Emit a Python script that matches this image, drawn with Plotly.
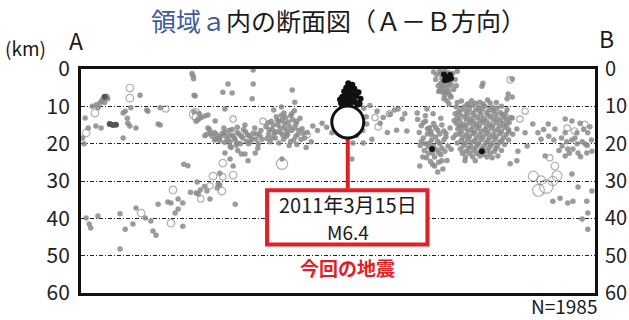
import plotly.graph_objects as go

# Cross-section A-B: distance along profile (0-100) vs depth (km)

# small hypocentres (grey dots), grouped by area
west_shallow = [
    (4.3, 8.0), (3.7, 9.1), (4.9, 7.8), (3.3, 10.4), (0.8, 13.1), (1.4, 15.8),
    (2.9, 15.3), (3.9, 15.8), (8.2, 11.8), (8.6, 11.3), (9.1, 14.5), (9.5, 15.3),
    (10.7, 15.8), (8.2, 18.5), (9.7, 10.4), (13.0, 11.3), (15.4, 10.4), (15.0, 14.7),
    (5.0, 7.3), (4.0, 8.6), (5.2, 8.0), (3.0, 9.6), (4.6, 9.0), (2.2, 10.0),
    (11.5, 7.0), (12.8, 11.0), (15.4, 15.0), (0.3, 18.5), (0.6, 20.0), (9.0, 13.2),
]
west_dark = [(5.6, 14.7), (6.2, 15.0), (6.8, 14.9), (4.6, 7.4)]
west_deep = [
    (20.0, 25.5), (20.8, 25.9), (22.4, 33.2), (15.0, 36.2), (16.9, 35.6), (17.5, 35.9),
    (18.9, 34.8), (19.8, 35.9), (10.7, 37.2), (12.5, 39.9), (7.6, 38.8), (3.3, 39.4),
    (1.0, 39.9), (1.9, 42.6), (1.6, 41.5), (10.1, 41.5), (8.6, 42.9), (13.6, 40.7),
    (14.0, 43.4), (19.8, 42.1), (14.6, 44.5), (7.6, 48.2), (18.3, 38.6), (18.9, 37.5),
    (22.8, 33.5), (24.5, 32.7), (25.1, 34.8), (26.7, 30.8), (27.0, 27.9), (28.0, 22.5),
    (29.0, 24.1), (29.6, 26.0), (30.0, 36.2), (29.0, 20.6), (30.4, 19.8), (31.9, 22.8),
    (32.5, 24.6), (33.9, 22.5), (34.4, 21.2), (39.1, 24.1), (22.6, 30.3), (23.2, 32.4),
    (26.5, 31.9), (27.0, 31.1), (21.3, 33.0), (24.0, 31.5),
]
central_upper = [
    (21.8, 1.9), (22.2, 7.2), (22.8, 13.4), (24.1, 17.9), (28.6, 4.0), (29.4, 6.4),
    (27.6, 6.2), (33.5, 4.0), (33.3, 8.0), (28.0, 10.7), (24.1, 12.6), (26.1, 13.9),
    (21.6, 1.2), (33.5, 0.3), (22.0, 7.0), (22.0, 11.5), (23.0, 12.0), (22.4, 14.0),
    (23.4, 13.0), (24.7, 12.3), (24.7, 15.8), (21.9, 2.6),
]
band_west = [
    (24.5, 17.5), (25.5, 18.0), (26.0, 17.0), (26.8, 18.5), (27.5, 17.2), (28.2, 18.0),
    (28.8, 16.5), (29.5, 17.8), (30.0, 19.0), (30.8, 17.5), (31.5, 18.5), (32.0, 16.8),
    (32.8, 18.0), (33.5, 17.2), (34.0, 18.8), (34.8, 17.8), (27.0, 19.2), (29.0, 19.5),
    (31.0, 20.0), (33.0, 19.5), (25.0, 16.2), (27.8, 15.8), (30.4, 15.6), (31.9, 15.0),
    (33.8, 15.8), (35.0, 16.5), (29.2, 21.0), (30.5, 21.8), (31.2, 22.8), (26.2, 18.8),
    (28.5, 18.9), (32.2, 19.4), (34.5, 20.0), (35.2, 18.8),
    (25.2, 17.2), (26.4, 17.6), (27.2, 18.0), (28.0, 17.0), (29.0, 17.8), (29.8, 18.4),
    (30.4, 17.0), (31.2, 18.0), (32.4, 17.6), (33.2, 18.6), (34.2, 17.4), (26.0, 19.0),
    (28.0, 19.6), (30.2, 20.4), (32.6, 20.0), (31.6, 16.2), (29.4, 16.2),
]
band_centre = [
    (36.0, 15.5), (36.5, 17.5), (37.0, 14.0), (37.2, 16.2), (37.8, 18.5), (38.0, 12.8),
    (38.3, 15.0), (38.8, 17.0), (39.2, 13.5), (39.5, 11.8), (39.6, 15.8), (40.0, 18.0),
    (40.3, 14.2), (40.8, 12.5), (41.0, 16.5), (41.4, 19.0), (41.8, 14.8), (42.2, 17.5),
    (42.6, 13.2), (43.0, 16.0), (36.8, 19.5), (38.5, 19.8), (40.5, 20.5), (42.0, 20.2),
    (43.5, 18.5), (44.0, 17.0), (37.5, 11.0), (39.0, 10.2), (41.5, 11.2), (38.6, 14.0),
    (40.0, 16.6), (41.2, 13.6), (39.4, 18.8), (37.6, 17.2), (36.2, 18.6), (42.8, 18.9),
    (45.1, 15.3), (46.9, 14.5), (48.8, 17.1), (46.0, 16.5), (47.8, 15.6), (44.8, 19.5),
    (43.8, 21.0), (41.1, 5.6), (41.6, 8.9),
    (36.6, 16.3), (37.4, 15.0), (38.0, 16.8), (38.8, 15.8), (39.0, 12.4), (39.8, 13.0),
    (40.6, 15.4), (40.2, 17.4), (41.6, 15.8), (42.4, 16.4), (41.8, 18.0), (39.2, 17.6),
    (37.2, 18.4), (40.8, 19.4), (38.2, 13.8), (42.0, 14.0), (36.4, 14.4), (43.2, 17.2),
    (39.6, 14.6), (41.0, 12.0),
]
near_mainshock = [
    (55.6, 14.7), (56.6, 18.8), (57.6, 11.3), (58.2, 14.5), (60.1, 12.1), (61.7, 10.7),
    (62.5, 13.4), (63.4, 16.6), (65.4, 11.8), (67.3, 10.7), (52.7, 24.1), (52.9, 19.8),
    (54.9, 19.8), (55.0, 10.5), (54.8, 16.5), (55.5, 12.8), (61.0, 11.0), (59.6, 17.0),
    (61.4, 16.4), (58.8, 13.0), (63.0, 12.0), (56.2, 9.8), (53.6, 17.8),
]
north_top = [
    (68.6, 0.8), (69.2, 1.5), (69.8, 0.5), (70.2, 2.5), (70.0, 3.8), (69.5, 4.5),
    (70.6, 5.2), (71.0, 4.0), (71.8, 3.5), (72.3, 1.2), (72.8, 2.8), (73.2, 0.6),
    (71.5, 6.0), (70.8, 7.0), (72.0, 7.5), (71.2, 8.5), (72.5, 5.5), (69.0, 2.8),
    (73.0, 4.5), (70.4, 6.3), (71.6, 9.4), (69.6, 6.0),
    (70.0, 1.2), (70.8, 0.6), (71.5, 1.0), (70.4, 3.2), (71.4, 4.8), (72.0, 4.2),
    (70.2, 4.6), (69.8, 5.6), (71.0, 6.2), (71.8, 7.0), (70.6, 8.0),
]
mid_cluster = [
    (65.5, 13.5), (66.2, 15.2), (67.0, 14.0), (67.8, 15.8), (68.6, 14.6), (69.4, 16.4),
    (70.2, 15.0), (71.0, 17.2), (65.8, 17.0), (66.6, 18.5), (67.4, 17.4), (68.2, 19.0),
    (69.0, 18.2), (69.8, 20.0), (70.6, 19.0), (71.4, 20.6), (66.0, 20.5), (66.8, 21.8),
    (67.6, 20.8), (68.4, 22.5), (69.2, 21.6), (70.0, 23.0), (70.8, 22.0), (67.2, 23.8),
    (68.0, 24.8), (68.8, 26.0), (69.6, 25.0), (70.4, 26.8), (71.2, 24.5), (72.0, 21.5),
    (72.4, 18.4), (71.8, 15.8), (72.6, 13.8), (67.0, 12.5), (68.5, 12.0), (65.9, 26.0),
    (66.5, 23.6), (69.4, 27.6), (68.0, 16.8), (70.0, 13.2),
    (66.6, 14.4), (67.4, 16.0), (68.2, 17.6), (69.0, 15.6), (69.8, 17.4), (70.6, 16.6),
    (66.2, 19.4), (67.0, 20.0), (67.8, 19.8), (68.6, 20.6), (69.4, 19.4), (70.2, 21.2),
    (67.6, 22.6), (68.8, 23.6), (69.6, 22.4), (70.2, 24.6), (68.4, 25.6), (71.0, 18.2),
]
east_cluster = [
    (76.0, 8.5), (77.6, 8.9), (79.1, 8.3),
    (74.5, 10.2), (76.1, 9.8), (77.3, 10.4), (78.5, 9.9), (80.1, 10.3),
    (73.4, 11.6), (74.9, 11.3), (76.2, 11.8), (77.6, 11.4), (78.9, 11.7), (80.2, 11.2), (81.6, 11.7),
    (73.2, 13.1), (74.6, 12.8), (75.8, 13.3), (77.1, 12.9), (78.3, 13.2), (79.7, 12.8), (81.0, 13.3), (82.4, 12.9),
    (73.0, 14.5), (74.3, 14.8), (75.7, 14.4), (76.9, 14.7), (78.2, 14.3), (79.5, 14.8), (80.8, 14.4), (82.1, 14.6), (83.3, 14.3),
    (73.3, 16.1), (74.7, 15.8), (75.9, 16.2), (77.2, 15.9), (78.6, 16.2), (79.8, 15.8), (81.1, 16.1), (82.4, 15.7),
    (73.6, 17.4), (74.9, 17.7), (76.3, 17.3), (77.5, 17.6), (78.8, 17.4), (80.1, 17.7), (81.5, 17.3), (82.7, 17.6), (84.0, 17.5),
    (74.0, 19.1), (75.3, 18.8), (76.6, 19.2), (77.9, 18.9), (79.2, 19.1), (80.5, 18.8), (81.8, 19.2),
    (74.4, 20.4), (75.8, 20.7), (77.1, 20.3), (78.4, 20.6), (79.7, 20.4), (81.0, 20.7),
    (75.0, 22.0), (76.4, 21.8), (77.6, 22.2), (79.0, 21.9), (80.4, 22.1),
    (76.2, 23.5), (77.6, 23.3), (79.0, 23.6),
    (75.1, 9.6), (82.9, 10.9), (73.9, 15.5), (83.2, 16.3),
    (75.3, 9.3), (76.8, 9.2), (78.2, 9.4), (79.6, 9.1),
    (73.9, 10.9), (75.5, 10.8), (76.8, 11.0), (78.1, 10.7), (79.4, 10.9), (80.9, 10.6),
    (73.8, 12.3), (75.2, 12.1), (76.5, 12.4), (77.8, 12.2), (79.2, 12.4), (80.6, 12.1), (81.9, 12.3),
    (73.7, 13.8), (75.0, 13.6), (76.3, 13.9), (77.6, 13.7), (78.9, 13.9), (80.2, 13.6), (81.6, 13.8), (82.8, 13.6),
    (73.6, 15.3), (75.0, 15.1), (76.3, 15.4), (77.5, 15.2), (78.9, 15.4), (80.1, 15.2), (81.5, 15.3), (82.8, 15.1),
    (74.0, 16.8), (75.3, 16.6), (76.6, 16.9), (77.9, 16.7), (79.2, 16.9), (80.5, 16.6), (81.8, 16.8), (83.2, 16.9),
    (74.3, 18.3), (75.6, 18.1), (76.9, 18.4), (78.2, 18.2), (79.5, 18.3), (80.8, 18.1), (82.2, 18.4),
    (74.8, 19.8), (76.0, 19.6), (77.4, 19.9), (78.8, 19.7), (80.1, 19.9), (81.4, 19.6),
    (75.4, 21.2), (76.8, 21.0), (78.0, 21.3), (79.4, 21.1), (80.7, 21.3),
    (75.7, 22.7), (77.0, 22.6), (78.3, 22.9), (79.6, 22.6),
    (73.2, 9.0), (74.0, 8.6), (73.0, 10.2), (80.8, 9.0), (81.8, 10.0), (82.6, 12.0),
    (83.5, 13.0), (73.2, 19.8), (73.8, 21.4), (74.2, 22.6), (74.8, 23.6), (81.8, 21.8),
    (82.4, 20.2), (83.2, 19.0), (72.9, 17.6), (72.8, 12.0),
]
east_scatter = [
    (83.9, 2.7), (78.0, 4.6), (83.1, 6.7), (82.9, 8.0), (83.9, 13.1), (84.8, 16.1),
    (86.4, 17.1), (87.9, 14.7), (88.9, 17.1), (90.9, 14.7), (92.2, 16.1), (94.2, 13.4),
    (95.5, 13.9), (97.1, 14.5), (94.2, 17.1), (96.5, 17.1), (93.6, 20.6), (94.7, 21.4),
    (96.7, 22.5), (98.4, 22.5), (94.2, 23.3), (95.7, 21.4), (98.1, 20.1), (90.3, 23.3),
    (84.8, 24.6), (83.5, 25.4), (81.1, 23.3), (80.0, 23.8), (76.7, 24.6), (74.7, 24.6),
    (85.0, 22.0), (86.8, 20.6), (96.1, 18.5), (98.6, 17.1), (93.5, 18.5), (94.5, 19.5),
    (95.5, 19.0), (96.5, 20.0), (97.5, 19.5), (98.5, 20.5), (99.3, 19.0), (97.8, 16.2),
    (99.0, 15.5), (95.0, 22.6), (97.2, 23.5), (99.4, 22.0), (93.0, 21.8), (92.0, 19.0),
    (91.0, 18.0), (89.5, 18.8), (90.0, 16.2), (78.2, 3.8), (83.9, 7.5),
    (95.5, 28.1), (96.7, 31.6), (91.8, 35.4), (93.2, 34.6), (94.7, 35.9), (95.7, 35.4),
    (98.4, 35.4), (98.6, 38.6), (97.5, 40.2), (98.6, 42.9), (99.4, 32.7),
]

# larger events drawn as open circles: (distance, depth, magnitude)
open_events = [
    (9.5, 5.1, 2.6), (9.5, 7.8, 2.6), (2.7, 11.8, 2.6), (1.0, 17.1, 2.6), (16.5, 10.7, 2.4),
    (22.2, 12.1, 3.2), (22.6, 12.9, 3.0), (17.9, 32.4, 2.6), (11.7, 38.6, 2.6),
    (17.5, 41.3, 2.6), (23.3, 34.8, 2.4), (27.4, 32.7, 2.6), (25.7, 28.7, 2.6),
    (25.1, 31.3, 2.4), (27.6, 25.2, 2.6), (29.6, 13.4, 2.4), (39.1, 25.4, 3.2),
    (27.6, 28.9, 2.4), (29.6, 28.4, 2.6), (57.2, 13.0, 2.4), (57.8, 15.5, 2.4),
    (60.0, 12.0, 2.4), (86.4, 11.3, 2.4), (85.4, 13.4, 2.4), (91.2, 23.8, 2.4),
    (94.6, 15.8, 2.4), (83.5, 2.9, 2.4), (88.0, 28.7, 3.0), (89.5, 29.8, 2.8),
    (90.5, 31.5, 3.6), (91.8, 30.0, 2.9), (92.6, 28.6, 3.0), (89.0, 32.5, 3.3),
    (92.2, 26.0, 2.6), (96.0, 16.6, 2.4), (98.0, 14.8, 2.4), (80.4, 12.0, 2.4),
    (75.0, 21.6, 2.4), (68.0, 16.0, 2.4), (44.0, 17.6, 2.4), (35.4, 14.0, 2.4),
]

# recent events (black dots): aftershocks of the M6.4 and a shallow swarm
recent_events = [
    (50.8, 7.5), (51.2, 6.0), (51.6, 5.0), (52.0, 4.6), (52.4, 5.5), (52.8, 6.8),
    (53.2, 5.3), (53.6, 7.2), (54.0, 6.2), (54.4, 8.0), (51.0, 8.8), (51.8, 8.2),
    (52.6, 8.6), (53.4, 8.9), (50.6, 9.2), (54.2, 9.3), (52.2, 7.2), (51.4, 7.0),
    (53.0, 8.0), (52.0, 3.8), (51.5, 9.6), (53.8, 9.6), (52.8, 4.2), (50.4, 8.2),
    (51.9, 6.4), (52.4, 9.2), (53.4, 6.4), (51.2, 8.0),
    (70.6, 1.5), (71.0, 2.2), (71.8, 1.6), (71.4, 2.8), (72.0, 2.5), (70.8, 3.0),
    (78.0, 22.0), (68.3, 21.4),
]

# the 2011-03-15 main shock
main_dist, main_depth, main_mag = 51.9, 14.2, 6.4
main_date = "2011年3月15日"
main_mag_text = f"M{main_mag}"

depth_ticks = [0, 10, 20, 30, 40, 50, 60]
event_count = 1985

GREY = "#8a8a8a"
FONT = "Noto Sans CJK JP"
RED = "#e41e26"

fig = go.Figure()

small_groups = [west_shallow, west_deep, central_upper, band_west, band_centre,
                near_mainshock, north_top, mid_cluster, east_cluster, east_scatter]
gx = [p[0] for g in small_groups for p in g]
gy = [p[1] for g in small_groups for p in g]
fig.add_trace(go.Scatter(
    x=gx, y=gy, mode="markers", hoverinfo="skip",
    marker=dict(size=5.5, color=GREY, opacity=0.85, line=dict(width=0)),
))
fig.add_trace(go.Scatter(
    x=[p[0] for p in west_dark], y=[p[1] for p in west_dark], mode="markers",
    hoverinfo="skip", marker=dict(size=6, color="#555555", line=dict(width=0)),
))
fig.add_trace(go.Scatter(
    x=[p[0] for p in open_events], y=[p[1] for p in open_events], mode="markers",
    hoverinfo="skip",
    marker=dict(size=[4 + (m - 2.0) * 6 for _, _, m in open_events],
                color="rgba(0,0,0,0)", line=dict(width=1.2, color="#8f8f8f")),
))
fig.add_trace(go.Scatter(
    x=[p[0] for p in recent_events], y=[p[1] for p in recent_events], mode="markers",
    hoverinfo="skip", marker=dict(size=6, color="#111111", line=dict(width=0)),
))
fig.add_trace(go.Scatter(
    x=[main_dist], y=[main_depth], mode="markers", hoverinfo="skip",
    marker=dict(size=32, color="white", line=dict(width=3, color="#111111")),
))
# invisible trace so the right-hand depth axis is drawn
fig.add_trace(go.Scatter(x=[main_dist], y=[main_depth], yaxis="y2", mode="markers",
                         marker=dict(opacity=0), hoverinfo="skip"))

# leader line from the main shock down to the label box
fig.add_shape(type="line", xref="x", yref="y", x0=main_dist, x1=main_dist,
              y0=main_depth + 4.5, y1=32.0, line=dict(color=RED, width=4), layer="below")
fig.add_shape(type="rect", xref="x", yref="y", x0=36.2, x1=67.4, y0=32.5, y1=47.0,
              line=dict(color=RED, width=4), fillcolor="white")
fig.add_annotation(x=main_dist, y=36.4, xref="x", yref="y", text=main_date,
                   showarrow=False, font=dict(family=FONT, size=20, color="#1a1a1a"))
fig.add_annotation(x=main_dist, y=43.4, xref="x", yref="y", text=main_mag_text,
                   showarrow=False, font=dict(family=FONT, size=19, color="#1a1a1a"))
fig.add_annotation(x=main_dist, y=53.2, xref="x", yref="y", text="<b>今回の地震</b>",
                   showarrow=False, font=dict(family=FONT, size=19, color=RED))

axis_y = dict(range=[60, 0], tickvals=depth_ticks, ticks="", showgrid=True,
              gridcolor="#222222", gridwidth=1, griddash="4px,2px,1px,2px",
              zeroline=False, showline=True, linecolor="#111111", linewidth=3,
              fixedrange=True, automargin=False)

fig.update_layout(
    width=629, height=320,
    margin=dict(l=81, r=34, t=69, b=27, autoexpand=False),
    paper_bgcolor="white", plot_bgcolor="white",
    showlegend=False,
    xaxis=dict(range=[0, 100], showticklabels=False, ticks="", showgrid=False,
               zeroline=False, showline=True, mirror=True, linecolor="#111111",
               linewidth=3, automargin=False),
    yaxis=dict(**axis_y, mirror=True, ticklabelstandoff=4,
               tickfont=dict(family=FONT, size=21, color="#222222")),
    yaxis2=dict(**axis_y, overlaying="y", side="right", ticklabelstandoff=3,
                tickfont=dict(family=FONT, size=20, color="#222222")),
)

# title, axis end labels and event count (paper coordinates)
fig.add_annotation(xref="paper", yref="paper", x=0.5, y=1.0, yshift=49,
                   xanchor="center", yanchor="middle", showarrow=False,
                   text="<span style='color:#3e5a9c'>領域ａ</span>内の断面図（Ａ－Ｂ方向）",
                   font=dict(family=FONT, size=25, color="#1a1a1a"))
fig.add_annotation(xref="paper", yref="paper", x=0, y=1.0, xshift=-56, yshift=22,
                   xanchor="center", yanchor="middle", showarrow=False, text="(km)",
                   font=dict(family=FONT, size=19, color="#1a1a1a"))
fig.add_annotation(xref="paper", yref="paper", x=0, y=1.0, xshift=-5, yshift=29,
                   xanchor="center", yanchor="middle", showarrow=False, text="A",
                   font=dict(family=FONT, size=23, color="#1a1a1a"))
fig.add_annotation(xref="paper", yref="paper", x=1, y=1.0, xshift=11, yshift=31,
                   xanchor="center", yanchor="middle", showarrow=False, text="B",
                   font=dict(family=FONT, size=23, color="#1a1a1a"))
fig.add_annotation(xref="paper", yref="paper", x=1, y=0, xshift=4, yshift=-12,
                   xanchor="right", yanchor="middle", showarrow=False,
                   text=f"N={event_count}",
                   font=dict(family=FONT, size=19, color="#1a1a1a"))

fig.write_html("out.html")
